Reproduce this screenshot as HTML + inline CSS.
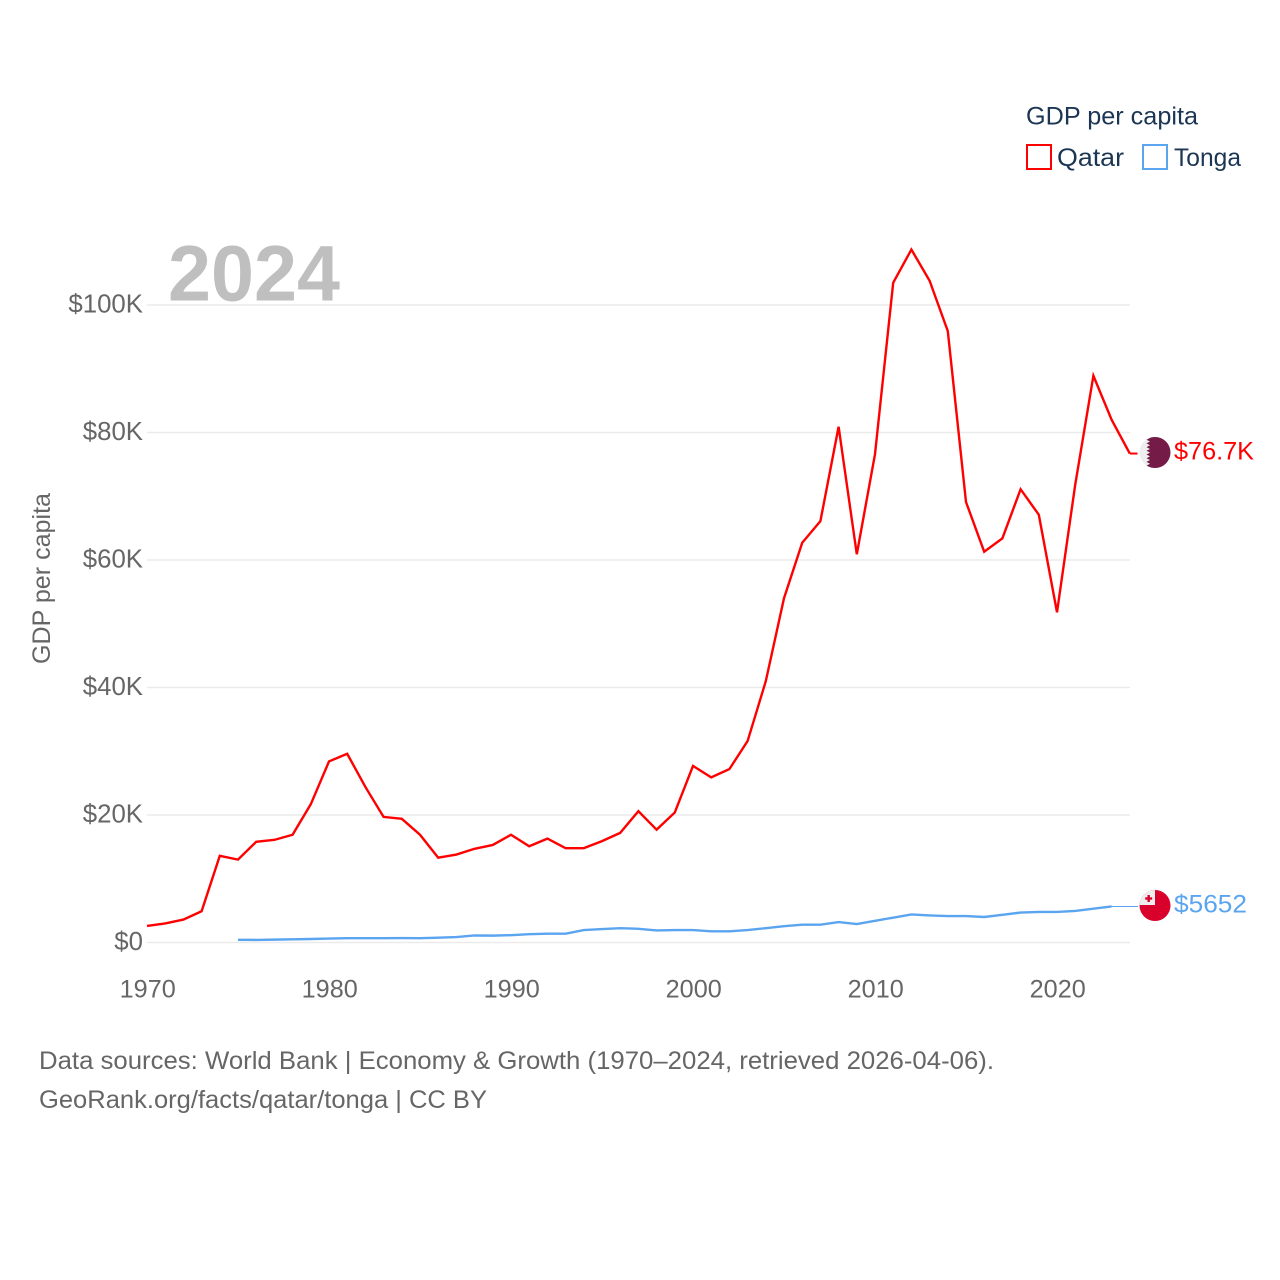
<!DOCTYPE html>
<html lang="en">
<head>
<meta charset="utf-8">
<title>GDP per capita: Qatar and Tonga</title>
<style>
html,body{margin:0;padding:0;background:#fff;width:1280px;height:1280px;overflow:hidden}
svg{display:block}
text{font-family:"Liberation Sans",sans-serif}
</style>
</head>
<body>
<svg id="chart" xmlns="http://www.w3.org/2000/svg" width="1280" height="1280" viewBox="0 0 1280 1280">
  <defs>
    <clipPath id="flag-clip-qatar"><circle cx="1155" cy="452.5" r="15.5"/></clipPath>
    <clipPath id="flag-clip-tonga"><circle cx="1155" cy="905.5" r="15.5"/></clipPath>
  </defs>
  <rect width="1280" height="1280" fill="#fff"/>
  <g id="grid"></g>
  <g id="y-ticks"></g>
  <g id="x-ticks"></g>
  <text x="168" y="300.5" font-size="79" font-weight="700" fill="#bfbfbf" textLength="172" lengthAdjust="spacingAndGlyphs">2024</text>
  <text transform="translate(50,664) rotate(-90)" font-size="25" fill="#666" textLength="171" lengthAdjust="spacingAndGlyphs">GDP per capita</text>
  <g id="series"></g>

  <g clip-path="url(#flag-clip-qatar)">
    <rect x="1139" y="436" width="32" height="33" fill="#eeeeee"/>
    <path fill="#741b47" d="M1171 436H1146.5l3.5 1.85-3.5 1.85 3.5 1.85-3.5 1.85 3.5 1.85-3.5 1.85 3.5 1.85-3.5 1.85 3.5 1.85-3.5 1.85 3.5 1.85-3.5 1.85 3.5 1.85-3.5 1.85 3.5 1.85-3.5 1.85 3.5 1.85-3.5 1.85H1171Z"/>
  </g>
  <g clip-path="url(#flag-clip-tonga)">
    <rect x="1139" y="889" width="32" height="33" fill="#d9002b"/>
    <rect x="1139" y="889" width="16" height="16" fill="#eeeeee"/>
    <rect x="1147.5" y="895" width="2.4" height="7" fill="#d9002b"/>
    <rect x="1145.2" y="897.3" width="7" height="2.4" fill="#d9002b"/>
  </g>
  <text x="1174" y="459.5" font-size="25" fill="#ff0000" textLength="80" lengthAdjust="spacingAndGlyphs">$76.7K</text>
  <text x="1174" y="912.5" font-size="25" fill="#5ba5f0" textLength="73" lengthAdjust="spacingAndGlyphs">$5652</text>

  <g>
    <text x="1026" y="124.5" font-size="25" fill="#1b3553" textLength="172" lengthAdjust="spacingAndGlyphs">GDP per capita</text>
    <rect x="1027" y="145" width="24" height="24" fill="none" stroke="#ff0000" stroke-width="2"/>
    <text x="1057" y="166" font-size="25" fill="#1b3553" textLength="67" lengthAdjust="spacingAndGlyphs">Qatar</text>
    <rect x="1143" y="145" width="24" height="24" fill="none" stroke="#5ba5f0" stroke-width="2"/>
    <text x="1174" y="166" font-size="25" fill="#1b3553" textLength="67" lengthAdjust="spacingAndGlyphs">Tonga</text>
  </g>

  <text x="39" y="1069" font-size="25" fill="#666" textLength="955" lengthAdjust="spacingAndGlyphs">Data sources: World Bank | Economy &amp; Growth (1970–2024, retrieved 2026-04-06).</text>
  <text x="39" y="1108" font-size="25" fill="#666" textLength="448" lengthAdjust="spacingAndGlyphs">GeoRank.org/facts/qatar/tonga | CC BY</text>
</svg>
<script>
const qatarStartYear = 1970;
const qatarValues = [2.6,3.0,3.6,4.9,13.6,13.0,15.8,16.1,16.9,21.7,28.4,29.6,24.4,19.7,19.4,16.9,13.3,13.8,14.7,15.3,16.9,15.1,16.3,14.8,14.8,15.9,17.2,20.6,17.7,20.4,27.7,25.9,27.2,31.6,41.0,54.0,62.7,66.1,80.9,60.9,76.6,103.5,108.7,103.8,95.9,69.1,61.3,63.4,71.1,67.1,51.8,71.8,88.9,82.0,76.7];
const tongaStartYear = 1975;
const tongaValues = [0.42,0.41,0.45,0.5,0.55,0.62,0.68,0.68,0.68,0.7,0.68,0.75,0.85,1.1,1.08,1.15,1.3,1.38,1.38,1.95,2.1,2.25,2.15,1.9,1.95,1.95,1.75,1.75,1.95,2.25,2.55,2.8,2.8,3.2,2.9,3.4,3.9,4.4,4.25,4.15,4.15,4.0,4.35,4.7,4.8,4.8,4.95,5.3,5.652];
const yTickValues = [0,20,40,60,80,100];
const yTickLabels = ["$0","$20K","$40K","$60K","$80K","$100K"];
const xTickValues = [1970,1980,1990,2000,2010,2020];

const NS = "http://www.w3.org/2000/svg";
const xScale = year => 147 + (year - 1970) * 18.2;
const yScale = value => 942.5 - value * 6.375;

const gridGroup = document.getElementById("grid");
const yGroup = document.getElementById("y-ticks");
const xGroup = document.getElementById("x-ticks");
const seriesGroup = document.getElementById("series");

yTickValues.forEach((v, i) => {
  const line = document.createElementNS(NS, "line");
  
  
  line.setAttribute("x1", 147);
  line.setAttribute("x2", 1130);
  line.setAttribute("y1", yScale(v));
  line.setAttribute("y2", yScale(v));
  line.setAttribute("stroke", "#ebebeb");
  line.setAttribute("stroke-width", 1.6);
  gridGroup.appendChild(line);

  const label = document.createElementNS(NS, "text");
  
  
  label.setAttribute("x", 143);
  label.setAttribute("y", yScale(v) + 7.5);
  label.setAttribute("text-anchor", "end");
  label.setAttribute("font-size", 25.8);
  label.setAttribute("fill", "#666");
  label.textContent = yTickLabels[i];
  yGroup.appendChild(label);
});

xTickValues.forEach(year => {
  const label = document.createElementNS(NS, "text");
  
  
  label.setAttribute("x", xScale(year) + 0.7);
  label.setAttribute("y", 997.5);
  label.setAttribute("text-anchor", "middle");
  label.setAttribute("font-size", 25.2);
  label.setAttribute("fill", "#666");
  label.textContent = year;
  xGroup.appendChild(label);
});

function pointsFor(values, startYear) {
  return values.map((v, i) => xScale(startYear + i).toFixed(2) + "," + yScale(v).toFixed(2)).join(" ");
}

const qatarLine = document.createElementNS(NS, "polyline");


qatarLine.setAttribute("points", pointsFor(qatarValues, qatarStartYear));
qatarLine.setAttribute("fill", "none");
qatarLine.setAttribute("stroke", "#ff0000");
qatarLine.setAttribute("stroke-width", 2.4);
seriesGroup.appendChild(qatarLine);

const tongaLine = document.createElementNS(NS, "polyline");


tongaLine.setAttribute("points", pointsFor(tongaValues, tongaStartYear));
tongaLine.setAttribute("fill", "none");
tongaLine.setAttribute("stroke", "#5ba5f0");
tongaLine.setAttribute("stroke-width", 2.4);
seriesGroup.appendChild(tongaLine);

const qatarConnector = document.createElementNS(NS, "line");


qatarConnector.setAttribute("x1", xScale(qatarStartYear + qatarValues.length - 1));
qatarConnector.setAttribute("x2", 1137.5);
qatarConnector.setAttribute("y1", yScale(qatarValues[qatarValues.length - 1]));
qatarConnector.setAttribute("y2", yScale(qatarValues[qatarValues.length - 1]));
qatarConnector.setAttribute("stroke", "#ff0000");
qatarConnector.setAttribute("stroke-width", 2);
seriesGroup.appendChild(qatarConnector);

const tongaConnector = document.createElementNS(NS, "line");


tongaConnector.setAttribute("x1", xScale(tongaStartYear + tongaValues.length - 1));
tongaConnector.setAttribute("x2", 1138);
tongaConnector.setAttribute("y1", yScale(tongaValues[tongaValues.length - 1]));
tongaConnector.setAttribute("y2", yScale(tongaValues[tongaValues.length - 1]));
tongaConnector.setAttribute("stroke", "#5ba5f0");
tongaConnector.setAttribute("stroke-width", 1);
seriesGroup.appendChild(tongaConnector);
</script>
</body>
</html>
